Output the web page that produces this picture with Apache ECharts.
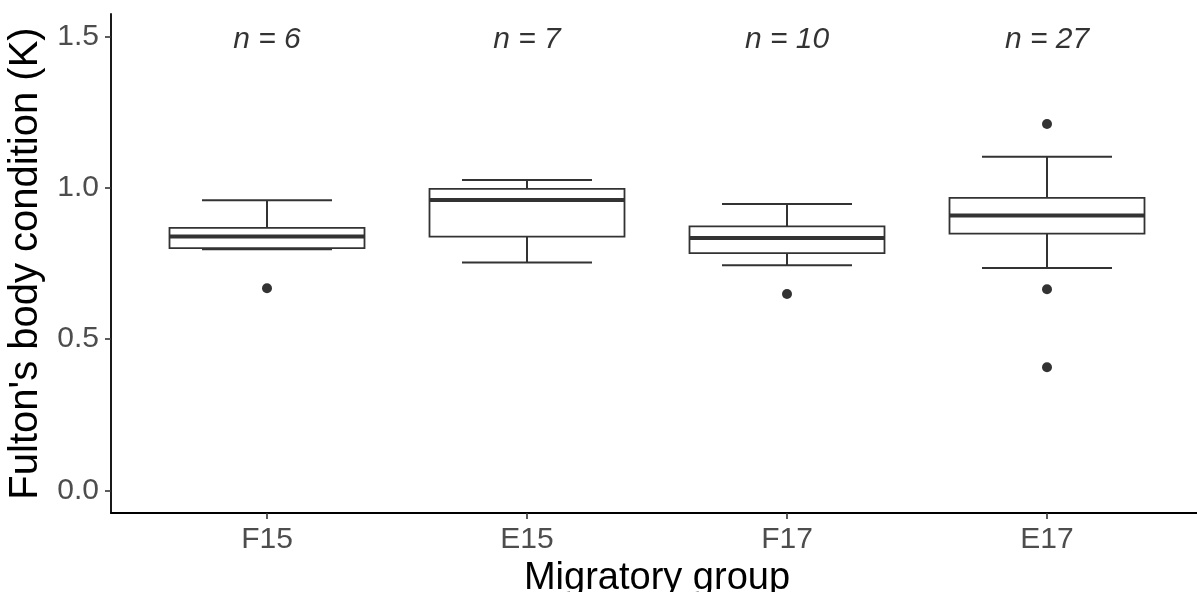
<!DOCTYPE html>
<html>
<head>
<meta charset="utf-8">
<script src="https://cdn.jsdelivr.net/npm/echarts@6/dist/echarts.min.js"></script>
<style>
html,body{margin:0;padding:0;background:#fff;}
#chart{width:1197px;height:592px;}
</style>
</head>
<body>
<div id="chart"></div>
<script>
// ---- data ----
const categories = ['F15', 'E15', 'F17', 'E17'];
const lowerWhisker = [0.797, 0.753, 0.744, 0.735];
const q1 = [0.801, 0.839, 0.784, 0.849];
const median = [0.839, 0.960, 0.834, 0.909];
const q3 = [0.868, 0.997, 0.873, 0.967];
const upperWhisker = [0.959, 1.026, 0.947, 1.103];
const outliers = [[0.668], [], [0.649], [1.211, 0.665, 0.407]];
const nLabels = ['n = 6', 'n = 7', 'n = 10', 'n = 27'];
const nLabelY = 1.5;
const yTicks = [0, 0.5, 1.0, 1.5];

// ---- build ----
const boxData = categories.map((c, i) => [i, lowerWhisker[i], q1[i], median[i], q3[i], upperWhisker[i]]);
const outlierData = [];
outliers.forEach((arr, i) => arr.forEach(v => outlierData.push([i, v])));
const nData = categories.map((c, i) => [i, nLabelY, nLabels[i]]);

const FONT = '"Liberation Sans", Arial, Helvetica, sans-serif';
const INK = '#333333';

function renderBox(params, api) {
  const x = api.value(0);
  const lo = api.value(1), a = api.value(2), m = api.value(3), b = api.value(4), hi = api.value(5);
  const boxW = api.size([0.75, 0])[0];
  const capW = api.size([0.5, 0])[0];
  const pLo = api.coord([x, lo]), pA = api.coord([x, a]), pM = api.coord([x, m]);
  const pB = api.coord([x, b]), pHi = api.coord([x, hi]);
  const cx = pM[0];
  const lineStyle = { stroke: INK, lineWidth: 2, fill: null };
  return {
    type: 'group',
    children: [
      { type: 'line', shape: { x1: cx, y1: pHi[1], x2: cx, y2: pB[1] }, style: lineStyle },
      { type: 'line', shape: { x1: cx, y1: pA[1], x2: cx, y2: pLo[1] }, style: lineStyle },
      { type: 'line', shape: { x1: cx - capW / 2, y1: pHi[1], x2: cx + capW / 2, y2: pHi[1] }, style: lineStyle },
      { type: 'line', shape: { x1: cx - capW / 2, y1: pLo[1], x2: cx + capW / 2, y2: pLo[1] }, style: lineStyle },
      { type: 'rect', shape: { x: cx - boxW / 2, y: pB[1], width: boxW, height: pA[1] - pB[1] },
        style: { stroke: INK, lineWidth: 1.8, fill: '#ffffff' } },
      { type: 'line', shape: { x1: cx - boxW / 2, y1: pM[1], x2: cx + boxW / 2, y2: pM[1] },
        style: { stroke: INK, lineWidth: 4, fill: null } }
    ]
  };
}

const chart = echarts.init(document.getElementById('chart'), null, { renderer: 'canvas' });
chart.setOption({
  animation: false,
  backgroundColor: '#ffffff',
  grid: { left: 111, right: -6, top: 14, bottom: 79, containLabel: false, outerBoundsMode: 'none' },
  xAxis: {
    type: 'value', min: -0.6, max: 3.6,
    name: 'Migratory group', nameLocation: 'middle', nameGap: 43,
    nameTextStyle: { fontFamily: FONT, fontSize: 38, color: '#000000' },
    axisLine: { show: true, onZero: false, lineStyle: { color: '#000000', width: 1.8 } },
    axisTick: { show: true, length: 6, lineStyle: { color: INK, width: 1.6 }, customValues: [0, 1, 2, 3] },
    axisLabel: { customValues: [0, 1, 2, 3], formatter: v => categories[Math.round(v)],
      fontFamily: FONT, fontSize: 30, color: '#4d4d4d', margin: 12 },
    splitLine: { show: false }
  },
  yAxis: {
    type: 'value', min: -0.075, max: 1.575,
    name: "Fulton's body condition (K)", nameLocation: 'middle', nameGap: 41,
    nameTextStyle: { fontFamily: FONT, fontSize: 40, color: '#000000' },
    axisLine: { show: true, onZero: false, lineStyle: { color: '#000000', width: 1.8 } },
    axisTick: { show: true, length: 6, lineStyle: { color: INK, width: 1.6 }, customValues: yTicks },
    axisLabel: { customValues: yTicks, formatter: v => v.toFixed(1),
      fontFamily: FONT, fontSize: 30, color: '#4d4d4d', margin: 12 },
    splitLine: { show: false }
  },
  series: [
    {
      type: 'custom', name: 'box', renderItem: renderBox, data: boxData,
      encode: { x: 0, y: [1, 2, 3, 4, 5] }, z: 2
    },
    {
      type: 'scatter', name: 'outliers', data: outlierData, symbolSize: 10,
      itemStyle: { color: INK, opacity: 1 }, z: 3
    },
    {
      type: 'scatter', name: 'n', data: nData, symbolSize: 0,
      label: { show: true, position: 'inside', offset: [0, 3], formatter: p => p.data[2],
        fontFamily: FONT, fontSize: 30, fontStyle: 'italic', color: '#000000' }
    }
  ]
});
</script>
</body>
</html>
